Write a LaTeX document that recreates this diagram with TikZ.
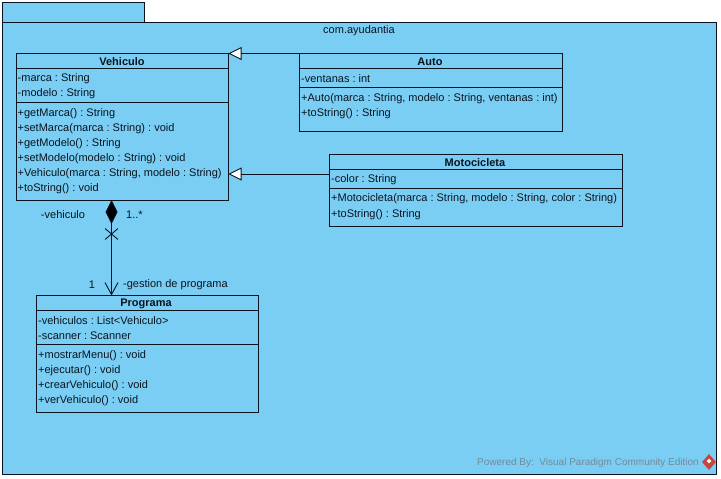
\documentclass[tikz,border=0pt]{standalone}
\usepackage{fontspec}
\setmainfont{Liberation Sans}
\usepackage{xcolor}
\usetikzlibrary{arrows.meta,shapes.misc,shapes.geometric}
\definecolor{pkgblue}{HTML}{7ACEF4}
\definecolor{inkdark}{HTML}{0A1420}
\definecolor{footgray}{HTML}{74899A}
\definecolor{vpred}{HTML}{C8443C}
\frenchspacing

\begin{document}
\begin{tikzpicture}[
  x=1pt, y=-1pt,
  pkg/.style={draw=inkdark, fill=pkgblue, line width=0.9pt, rectangle, inner sep=0pt, outer sep=0pt},
  classbox/.style={pkg},
  title/.style={font=\fontsize{11}{13}\selectfont\bfseries, text=inkdark, inner sep=0pt, anchor=center},
  member/.style={font=\fontsize{11}{13}\selectfont, text=inkdark, inner sep=0pt, anchor=west},
  tag/.style={member, anchor=center},
  conn/.style={draw=inkdark, line width=0.9pt},
  inherit/.style={conn, -{Triangle[open, fill=white, length=13pt, width=13pt]}},
  compose/.style={conn, {Diamond[fill=black, length=24pt, width=12pt]}-{Straight Barb[length=12pt, width=13pt]}},
]
\useasboundingbox (0,0) rectangle (721,479);

% Package
\node[pkg, minimum width=142pt, minimum height=20pt] (tab) at (73,12) {};
\node[pkg, minimum width=714pt, minimum height=452pt] (body) at (359,248) {};
\node[tag] (pkgname) at (359,30.5) {com.ayudantia};

% Vehiculo
\node[classbox, minimum width=212.5pt, minimum height=146.5pt] (vehiculo) at (122.25,126.75) {};
\node[title] (vehiculoname) at (122,61.5) {Vehiculo};
\draw[conn] (16,68.5) -- (228.5,68.5);
\node[member] (v1) at (17.5,79) {-marca : String};
\node[member] (v2) at (17.5,94) {-modelo : String};
\draw[conn] (16,102.5) -- (228.5,102.5);
\node[member] (v3) at (17.5,113.5) {+getMarca() : String};
\node[member] (v4) at (17.5,128.5) {+setMarca(marca : String) : void};
\node[member] (v5) at (17.5,143.5) {+getModelo() : String};
\node[member] (v6) at (17.5,158.5) {+setModelo(modelo : String) : void};
\node[member] (v7) at (17.5,173.5) {+Vehiculo(marca : String, modelo : String)};
\node[member] (v8) at (17.5,188.5) {+toString() : void};

% Auto
\node[classbox, minimum width=263pt, minimum height=77.5pt] (auto) at (431,92.25) {};
\node[title] (autoname) at (430,61.5) {Auto};
\draw[conn] (299.5,68.5) -- (562.5,68.5);
\node[member] (a1) at (301,79) {-ventanas : int};
\draw[conn] (299.5,87.5) -- (562.5,87.5);
\node[member] (a2) at (301,98.5) {+Auto(marca : String, modelo : String, ventanas : int)};
\node[member] (a3) at (301,113.5) {+toString() : String};

% Motocicleta
\node[classbox, minimum width=292.5pt, minimum height=71.5pt] (moto) at (475.75,190.25) {};
\node[title] (motoname) at (475,162.5) {Motocicleta};
\draw[conn] (329.5,169.5) -- (622,169.5);
\node[member] (m1) at (331,180) {-color : String};
\draw[conn] (329.5,188.5) -- (622,188.5);
\node[member] (m2) at (331,199) {+Motocicleta(marca : String, modelo : String, color : String)};
\node[member] (m3) at (331,214.5) {+toString() : String};

% Programa
\node[classbox, minimum width=221.5pt, minimum height=116.5pt] (programa) at (147.25,353.75) {};
\node[title] (programaname) at (146,303.5) {Programa};
\draw[conn] (36.5,310.5) -- (258,310.5);
\node[member] (p1) at (38,321) {-vehiculos : List<Vehiculo>};
\node[member] (p2) at (38,336) {-scanner : Scanner};
\draw[conn] (36.5,344.5) -- (258,344.5);
\node[member] (p3) at (38,355.5) {+mostrarMenu() : void};
\node[member] (p4) at (38,370.5) {+ejecutar() : void};
\node[member] (p5) at (38,385.5) {+crearVehiculo() : void};
\node[member] (p6) at (38,400.5) {+verVehiculo() : void};

% Generalisations
\coordinate (motoline) at (300,174);
\draw[inherit] (auto.north west) -- (vehiculo.north east);
\draw[inherit] (moto.west |- motoline) -- (vehiculo.east |- motoline);

% Composition
\node[draw=inkdark, line width=0.9pt, cross out, inner sep=0pt, minimum width=12pt, minimum height=10pt] (xmark) at (111.5,234) {};
\draw[compose] (xmark |- vehiculo.south) -- (xmark |- programa.north);
\node[tag] (rolea) at (63,215) {-vehiculo};
\node[tag] (multa) at (134.5,215) {1..*};
\node[tag] (multb) at (92,285) {1};
\node[member] (roleb) at (123,285) {-gestion de programa};

% Footer
\node[member, text=footgray, font=\fontsize{10}{12}\selectfont] (powered) at (477,463) {Powered By:\ \ Visual Paradigm Community Edition};
\node[diamond, fill=vpred, inner sep=0pt, minimum width=14pt, minimum height=16pt] (vplogo) at (709,462) {};
\node[diamond, fill=white, inner sep=0pt, minimum size=5pt] (vpdot) at (709,461) {};
\end{tikzpicture}
\end{document}
